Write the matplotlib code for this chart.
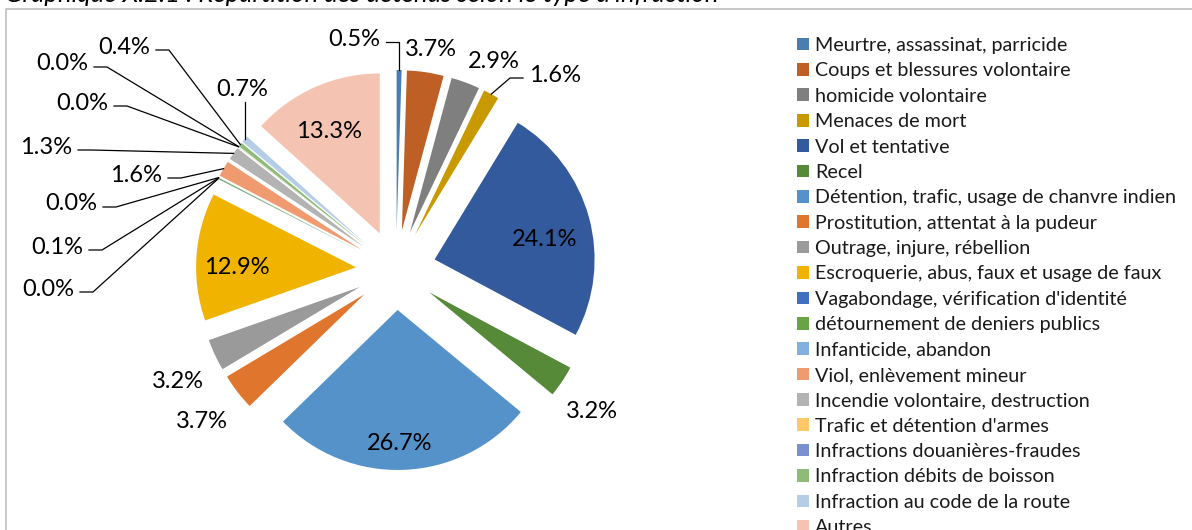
import matplotlib
matplotlib.use('Agg')
import numpy as np
from matplotlib import pyplot as plt
from matplotlib.patches import Rectangle

plt.rcParams['font.family'] = ['Lato', 'DejaVu Sans']

title = "Graphique X.2.1 : Répartition des détenus selon le type d'infraction"

categories = [
    "Meurtre, assassinat, parricide",
    "Coups et blessures volontaire",
    "homicide volontaire",
    "Menaces de mort",
    "Vol et tentative",
    "Recel",
    "Détention, trafic, usage de chanvre indien",
    "Prostitution, attentat à la pudeur",
    "Outrage, injure, rébellion",
    "Escroquerie, abus, faux et usage de faux",
    "Vagabondage, vérification d'identité",
    "détournement de deniers publics",
    "Infanticide, abandon",
    "Viol, enlèvement mineur",
    "Incendie volontaire, destruction",
    "Trafic et détention d'armes",
    "Infractions douanières-fraudes",
    "Infraction débits de boisson",
    "Infraction au code de la route",
    "Autres",
]

# percentages (0.0% slices estimated as tiny shares)
shares = [0.5, 3.7, 2.9, 1.6, 24.1, 3.2, 26.7, 3.7, 3.2, 12.9,
          0.02, 0.1, 0.02, 1.6, 1.3, 0.02, 0.02, 0.4, 0.7, 13.3]

colors = ['#4A7EB0', '#BE6025', '#7F7F7F', '#C89A00', '#325A9C', '#568A38',
          '#5592CA', '#E0752E', '#9A9A9A', '#F0B400', '#4270C0', '#68A445',
          '#83B0DD', '#F09A70', '#B3B3B3', '#FFC868', '#7B90CE', '#8FBB78',
          '#B6CDE8', '#F4C3B2']

# label centres in pixels (Excel layout) and leader style
label_px = [(354, 37), (431, 48), (494, 59), (555, 73), (545, 238),
            (592, 409), (400, 441), (202, 419), (178, 379), (237, 266),
            (48, 287), (57, 245), (71, 202), (136, 173), (46, 145),
            (82, 101), (62, 62), (124, 45), (242, 88), (329, 129)]
leaders = ['top', None, None, 'right', None,
           None, None, None, None, None,
           'left', 'left', 'left', 'left', 'left',
           'left', 'left', 'left', 'down', None]

W, H = 1192, 530
PX = 160.0          # pixels per pie radius
CX, CY = 396, 270   # pie centre in pixels


def to_data(px, py):
    return (px - CX) / PX, (CY - py) / PX


fig = plt.figure(figsize=(W / 100, H / 100), dpi=100)
ax = fig.add_axes([0, 0, 1, 1])

wedges, _ = ax.pie(shares, colors=colors, startangle=90, counterclock=False,
                   explode=[0.25] * len(shares), radius=1,
                   wedgeprops=dict(linewidth=0))
ax.set_xlim(-CX / PX, (W - CX) / PX)
ax.set_ylim(-(H - CY) / PX, CY / PX)
ax.axis('off')

texts = []
for v, (px, py) in zip(shares, label_px):
    x, y = to_data(px, py)
    t = ax.text(x, y, f"{v:.1f}%", ha='center', va='center_baseline',
                fontsize=17, color='black')
    texts.append(t)

fig.canvas.draw()
inv = ax.transData.inverted()
gap = 6 / PX
elbow = 13 / PX
drop = 5 / PX

for w, t, style in zip(wedges, texts, leaders):
    if style is None:
        continue
    mid = np.deg2rad((w.theta1 + w.theta2) / 2)
    cx, cy = w.center
    ex, ey = cx + w.r * np.cos(mid), cy + w.r * np.sin(mid)
    bb = t.get_window_extent().transformed(inv)
    ty = t.get_position()[1] - drop
    if style == 'left':
        xs = [bb.x1 + gap, bb.x1 + gap + elbow, ex]
        ys = [ty, ty, ey]
    elif style == 'right':
        xs = [bb.x0 - gap, bb.x0 - gap - elbow, ex]
        ys = [ty, ty, ey]
    elif style == 'top':
        xs = [bb.x1 + gap, ex, ex]
        ys = [ty, ty, ey]
    else:
        xs = [ex, ex]
        ys = [bb.y0 - 2 / PX, ey]
    ax.plot(xs, ys, color='black', lw=0.9, solid_joinstyle='miter')

leg = fig.legend(wedges, categories, loc='upper left',
                 bbox_to_anchor=(797 / W, 1 - 37 / H), frameon=False,
                 fontsize=14.2, handlelength=0.61, handleheight=0.61,
                 handletextpad=0.3, labelspacing=0.425, borderpad=0,
                 borderaxespad=0)
for txt in leg.get_texts():
    txt.set_color('#1a1a1a')

# chart area frame
fig.patches.append(Rectangle((6 / W, -0.1), 2, 1.1 - 9 / H,
                             transform=fig.transFigure, fill=False,
                             edgecolor='#BFBFBF', lw=1.2))

fig.text(5 / W, 1 - 2 / H, title, ha='left', va='baseline',
         fontsize=18.5, style='italic', color='black')

fig.savefig('out.png', dpi=100)
